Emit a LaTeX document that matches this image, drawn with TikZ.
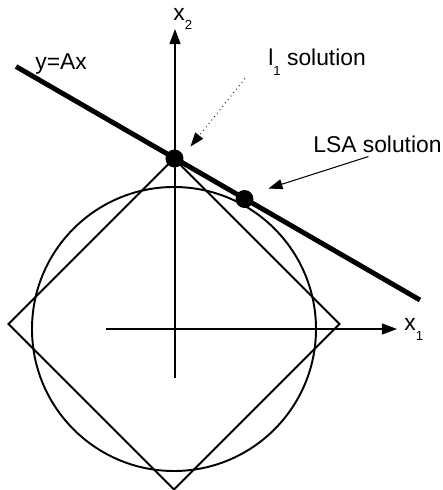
\documentclass[tikz,border=0pt]{standalone}
\usepackage{fontspec}
\setmainfont{Liberation Sans}
\usetikzlibrary{arrows.meta}

\newcommand{\lowsub}[1]{\raisebox{-5.5pt}{\fontsize{7.5}{8}\selectfont #1}}

\begin{document}
\begin{tikzpicture}[font=\fontsize{13}{15}\selectfont, >={Triangle[length=0.3cm,width=0.22cm]},
    lbl/.style={anchor=base west, inner sep=0pt},
    soln/.style={circle, fill=black, inner sep=0pt, minimum size=0.36cm}]
    \useasboundingbox (-3.5,-3.22) rectangle (5.36,6.58);
    % unit ball of l2 and l1
    \draw[line width=1.1pt] (-0.02,0) circle (2.84);
    \draw[line width=1.1pt] (-0.02,3.41) -- (3.29,0.1) -- (-0.02,-3.21) -- (-3.33,0.1) -- cycle;
    % axes
    \draw[->, line width=0.6pt] (0,-0.98) -- (0,6.0);
    \draw[->, line width=0.6pt] (-1.38,0) -- (4.44,0);
    \node[lbl] (xtwo) at (-0.04,6.18) {x\lowsub{2}};
    \node[lbl] (xone) at (4.58,-0.03) {x\lowsub{1}};
    % constraint line
    \coordinate (lnA) at (-3.18,5.25);
    \coordinate (lnB) at (4.9,0.58);
    \draw[line width=2.8pt] (lnA) -- (lnB);
    \node[lbl] (yax) at (-2.8,5.19) {y=Ax};
    % solutions
    \node[soln] (lone) at (-0.01,3.41) {};
    \node[soln] (lsa) at (1.39,2.6) {};
    \node[lbl] (lonelbl) at (1.86,5.27) {l\lowsub{1} solution};
    \node[lbl] (lsalbl) at (2.76,3.53) {LSA solution};
    \coordinate (loneA) at (1.4,5.01);
    \coordinate (loneB) at (0.31,3.65);
    \coordinate (lsaA) at (3.87,3.45);
    \coordinate (lsaB) at (1.87,2.81);
    \draw[->, line width=0.5pt, dotted, >={Triangle[length=0.28cm,width=0.2cm]}] (loneA) -- (loneB);
    \draw[->, line width=0.6pt, >={Triangle[length=0.28cm,width=0.2cm]}] (lsaA) -- (lsaB);
\end{tikzpicture}
\end{document}
